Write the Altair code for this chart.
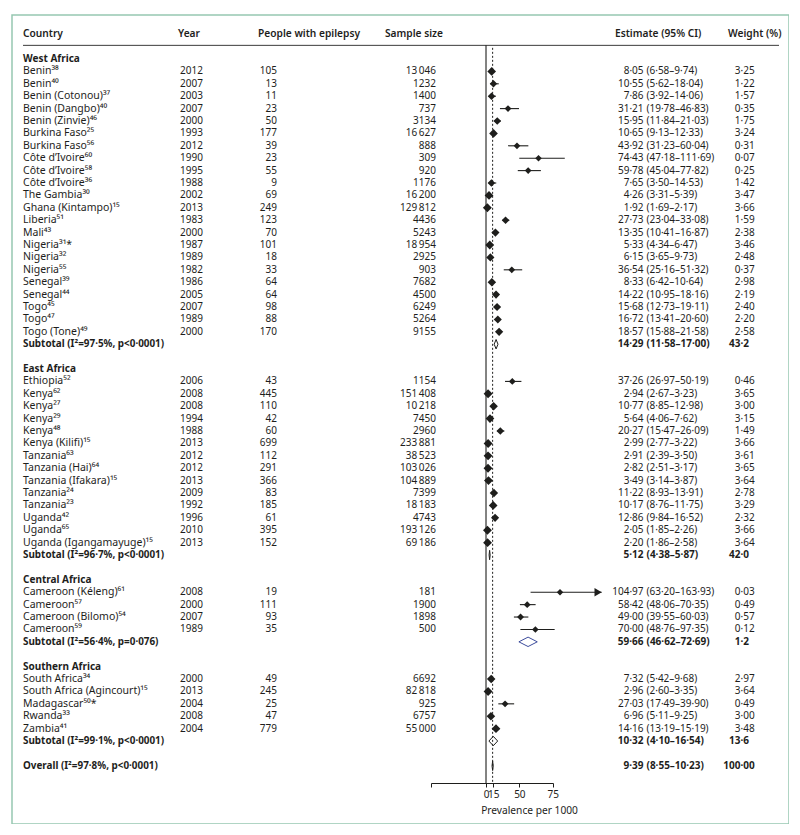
import altair as alt
import pandas as pd

FONT = "Noto Sans"
INK = "#1e1e1c"

# ---------------- data ----------------
regions = ["West Africa", "East Africa", "Central Africa", "Southern Africa"]

names = [
    ["Benin", "Benin", "Benin (Cotonou)", "Benin (Dangbo)", "Benin (Zinvie)", "Burkina Faso",
     "Burkina Faso", "Côte d’Ivoire", "Côte d’Ivoire", "Côte d’Ivoire", "The Gambia",
     "Ghana (Kintampo)", "Liberia", "Mali", "Nigeria", "Nigeria", "Nigeria", "Senegal",
     "Senegal", "Togo", "Togo", "Togo (Tone)"],
    ["Ethiopia", "Kenya", "Kenya", "Kenya", "Kenya", "Kenya (Kilifi)", "Tanzania",
     "Tanzania (Hai)", "Tanzania (Ifakara)", "Tanzania", "Tanzania", "Uganda", "Uganda",
     "Uganda (Igangamayuge)"],
    ["Cameroon (Kéleng)", "Cameroon", "Cameroon (Bilomo)", "Cameroon"],
    ["South Africa", "South Africa (Agincourt)", "Madagascar", "Rwanda", "Zambia"],
]
refs = [
    ["38", "40", "37", "40", "46", "25", "56", "60", "58", "36", "30", "15", "51", "43",
     "31*", "32", "55", "39", "44", "45", "47", "49"],
    ["52", "62", "27", "29", "48", "15", "63", "64", "15", "24", "23", "42", "65", "15"],
    ["61", "57", "54", "59"],
    ["34", "15", "50*", "33", "41"],
]
years = [
    [2012, 2007, 2003, 2007, 2000, 1993, 2012, 1990, 1995, 1988, 2002, 2013, 1983, 2000,
     1987, 1989, 1982, 1986, 2005, 2007, 1989, 2000],
    [2006, 2008, 2008, 1994, 1988, 2013, 2012, 2012, 2013, 2009, 1992, 1996, 2010, 2013],
    [2008, 2000, 2007, 1989],
    [2000, 2013, 2004, 2008, 2004],
]
cases = [
    [105, 13, 11, 23, 50, 177, 39, 23, 55, 9, 69, 249, 123, 70, 101, 18, 33, 64, 64, 98,
     88, 170],
    [43, 445, 110, 42, 60, 699, 112, 291, 366, 83, 185, 61, 395, 152],
    [19, 111, 93, 35],
    [49, 245, 25, 47, 779],
]
samples = [
    [13046, 1232, 1400, 737, 3134, 16627, 888, 309, 920, 1176, 16200, 129812, 4436, 5243,
     18954, 2925, 903, 7682, 4500, 6249, 5264, 9155],
    [1154, 151408, 10218, 7450, 2960, 233881, 38523, 103026, 104889, 7399, 18183, 4743,
     193126, 69186],
    [181, 1900, 1898, 500],
    [6692, 82818, 925, 6757, 55000],
]
estimates = [
    [8.05, 10.55, 7.86, 31.21, 15.95, 10.65, 43.92, 74.43, 59.78, 7.65, 4.26, 1.92, 27.73,
     13.35, 5.33, 6.15, 36.54, 8.33, 14.22, 15.68, 16.72, 18.57],
    [37.26, 2.94, 10.77, 5.64, 20.27, 2.99, 2.91, 2.82, 3.49, 11.22, 10.17, 12.86, 2.05, 2.20],
    [104.97, 58.42, 49.00, 70.00],
    [7.32, 2.96, 27.03, 6.96, 14.16],
]
lowers = [
    [6.58, 5.62, 3.92, 19.78, 11.84, 9.13, 31.23, 47.18, 45.04, 3.50, 3.31, 1.69, 23.04,
     10.41, 4.34, 3.65, 25.16, 6.42, 10.95, 12.73, 13.41, 15.88],
    [26.97, 2.67, 8.85, 4.06, 15.47, 2.77, 2.39, 2.51, 3.14, 8.93, 8.76, 9.84, 1.85, 1.86],
    [63.20, 48.06, 39.55, 48.76],
    [5.42, 2.60, 17.49, 5.11, 13.19],
]
uppers = [
    [9.74, 18.04, 14.06, 46.83, 21.03, 12.33, 60.04, 111.69, 77.82, 14.53, 5.39, 2.17, 33.08,
     16.87, 6.47, 9.73, 51.32, 10.64, 18.16, 19.11, 20.60, 21.58],
    [50.19, 3.23, 12.98, 7.62, 26.09, 3.22, 3.50, 3.17, 3.87, 13.91, 11.75, 16.52, 2.26, 2.58],
    [163.93, 70.35, 60.03, 97.35],
    [9.68, 3.35, 39.90, 9.25, 15.19],
]
weights = [
    [3.25, 1.22, 1.57, 0.35, 1.75, 3.24, 0.31, 0.07, 0.25, 1.42, 3.47, 3.66, 1.59, 2.38,
     3.46, 2.48, 0.37, 2.98, 2.19, 2.40, 2.20, 2.58],
    [0.46, 3.65, 3.00, 3.15, 1.49, 3.66, 3.61, 3.65, 3.64, 2.78, 3.29, 2.32, 3.66, 3.64],
    [0.03, 0.49, 0.57, 0.12],
    [2.97, 3.64, 0.49, 3.00, 3.48],
]

subtotal_labels = ["Subtotal (I²=97·5%, p<0·0001)", "Subtotal (I²=96·7%, p<0·0001)",
                   "Subtotal (I²=56·4%, p=0·076)", "Subtotal (I²=99·1%, p<0·0001)"]
subtotal_est = [14.29, 5.12, 59.66, 10.32]
subtotal_lo = [11.58, 4.38, 46.62, 4.10]
subtotal_hi = [17.00, 5.87, 72.69, 16.54]
subtotal_w = [43.2, 42.0, 1.2, 13.6]

overall_label = "Overall (I²=97·8%, p<0·0001)"
overall_est, overall_lo, overall_hi, overall_w = 9.39, 8.55, 10.23, 100.00

headers = ["Country", "Year", "People with epilepsy", "Sample size", "Estimate (95% CI)",
           "Weight (%)"]
axis_tick_values = [-78, 0, 10.4, 47.3, 94.6]
axis_tick_labels = ["", "0", "15", "50", "75"]
axis_title = "Prevalence per 1000"
arrow_above = 150  # CIs reaching beyond this get an arrow head

# ---------------- helpers ----------------
SUP = str.maketrans("0123456789", "⁰¹²³⁴⁵⁶⁷⁸⁹")


def dot(v, nd):
    return f"{v:.{nd}f}".replace(".", "·")


def thousands(n):
    return f"{n:,}".replace(",", "\u2009") if n >= 10000 else str(n)


def split_dec(s):
    k = s.index("·")
    return s[:k], s[k:]


study_rows, region_rows, summary_rows, poly_rows = [], [], [], []
r = 0
for i, reg in enumerate(regions):
    region_rows.append({"row": r, "label": reg})
    r += 1
    for j in range(len(names[i])):
        wi, wf = split_dec(dot(weights[i][j], 2))
        study_rows.append({
            "row": r, "label": names[i][j] + refs[i][j].translate(SUP),
            "year": str(years[i][j]), "cases": str(cases[i][j]),
            "sample": thousands(samples[i][j]),
            "est": estimates[i][j], "lo": lowers[i][j], "hi": uppers[i][j],
            "w": weights[i][j], "est_txt": dot(estimates[i][j], 2),
            "ci_txt": f"({dot(lowers[i][j], 2)}–{dot(uppers[i][j], 2)})",
            "w_int": wi, "w_frac": wf,
        })
        r += 1
    wi, wf = split_dec(dot(subtotal_w[i], 1))
    summary_rows.append({
        "row": r, "label": subtotal_labels[i], "grp": reg, "est": subtotal_est[i],
        "lo": subtotal_lo[i], "hi": subtotal_hi[i], "est_txt": dot(subtotal_est[i], 2),
        "ci_txt": f"({dot(subtotal_lo[i], 2)}–{dot(subtotal_hi[i], 2)})",
        "w_int": wi, "w_frac": wf})
    r += 2
wi, wf = split_dec(dot(overall_w, 2))
summary_rows.append({
    "row": r, "label": overall_label, "grp": "Overall", "est": overall_est,
    "lo": overall_lo, "hi": overall_hi, "est_txt": dot(overall_est, 2),
    "ci_txt": f"({dot(overall_lo, 2)}–{dot(overall_hi, 2)})", "w_int": wi, "w_frac": wf})

HALF = 0.38
for s in summary_rows:
    pts = [(s["lo"], s["row"]), (s["est"], s["row"] - HALF), (s["hi"], s["row"]),
           (s["est"], s["row"] + HALF), (s["lo"], s["row"])]
    for k, (px, py) in enumerate(pts):
        poly_rows.append({"grp": s["grp"], "k": k, "x": px, "y": py})

studies = pd.DataFrame(study_rows)
region_df = pd.DataFrame(region_rows)
summ = pd.DataFrame(summary_rows)
poly = pd.DataFrame(poly_rows)

# ---------------- scales / axis ----------------
AXIS_ROW = 58.39
yscale = alt.Scale(domain=[-3.548, 61.69], reverse=True, nice=False, zero=False)
xscale = alt.Scale(domain=[-78, 95], range=[419, 541], nice=False, zero=False)

label_expr = " : ".join(f"datum.value == {v} ? '{l}'"
                        for v, l in zip(axis_tick_values, axis_tick_labels)) + " : ''"
xaxis = alt.Axis(values=axis_tick_values, labelExpr=label_expr, title=axis_title,
                 offset=-41, tickSize=4, tickColor=INK, domainColor=INK, labelColor=INK,
                 titleColor=INK, labelFont=FONT, titleFont=FONT, labelFontSize=10,
                 titleFontSize=10.2, titleFontWeight="normal", grid=False, labelPadding=2,
                 labelFlush=False, labelOverlap=False, labelBound=False,
                 titleX=517, titleY=27, titleAlign="center", titleBaseline="middle",
                 domainWidth=1, tickWidth=1)

Y = alt.Y("row:Q", scale=yscale, axis=None)


def X(field):
    return alt.X(f"{field}:Q", scale=xscale, axis=xaxis)


def text_layer(df, field, xpx, align="left", weight="normal", size=10):
    return alt.Chart(df).mark_text(
        align=align, baseline="middle", font=FONT, fontSize=size, fontWeight=weight,
        color=INK).encode(x=alt.value(xpx), y=Y, text=f"{field}:N")


layers = []

# header texts + rule
header_x = [11, 166, 246, 373, 603, 716]
for h, hx in zip(headers, header_x):
    layers.append(text_layer(pd.DataFrame({"row": [-2.0], "t": [h]}), "t", hx,
                             weight=600, size=10.2))
layers.append(alt.Chart(pd.DataFrame({"row": [-1.1]})).mark_rule(
    color="#3a3a3a", strokeWidth=1).encode(x=alt.value(11), x2=alt.value(767), y=Y))

# reference lines
layers.append(alt.Chart(pd.DataFrame({"v": [0.0], "a": [-1.1], "b": [AXIS_ROW]})).mark_rule(
    color=INK, strokeWidth=1.1).encode(x=X("v"), y=alt.Y("a:Q", scale=yscale, axis=None),
                                       y2="b:Q"))
layers.append(alt.Chart(pd.DataFrame({"v": [overall_est], "a": [-0.9],
                                      "b": [AXIS_ROW - 0.1]})).mark_rule(
    color=INK, strokeWidth=1, strokeDash=[2, 2]).encode(
    x=X("v"), y=alt.Y("a:Q", scale=yscale, axis=None), y2="b:Q"))

# study CIs, markers, arrow
layers.append(alt.Chart(studies).mark_rule(color=INK, strokeWidth=1.1).encode(
    x=X("lo"), x2="hi:Q", y=Y))
layers.append(alt.Chart(studies).mark_point(shape="diamond", filled=True, color=INK,
                                            opacity=1).encode(
    x=X("est"), y=Y,
    size=alt.Size("w:Q", scale=alt.Scale(domain=[0, 3.7], range=[42, 80]), legend=None)))
layers.append(alt.Chart(studies).transform_filter(f"datum.hi > {arrow_above}").mark_point(
    shape="triangle-right", filled=True, color=INK, opacity=1, size=70, xOffset=-3.5).encode(
    x=X("hi"), y=Y))

# summary diamonds
grp_names = regions + ["Overall"]
grp_colors = [INK, INK, "#3d4c9c", INK, INK]
layers.append(alt.Chart(poly).mark_line(strokeWidth=1).encode(
    x=X("x"), y=alt.Y("y:Q", scale=yscale, axis=None), order="k:Q", detail="grp:N",
    color=alt.Color("grp:N", scale=alt.Scale(domain=grp_names, range=grp_colors),
                    legend=None)))

# text columns
layers.append(text_layer(region_df, "label", 11, weight="bold", size=10))
layers.append(text_layer(studies, "label", 11, size=10.5))
layers.append(text_layer(summ, "label", 11, weight="bold", size=9.9))
layers.append(text_layer(studies, "year", 168))
layers.append(text_layer(studies, "cases", 265, align="right"))
layers.append(text_layer(studies, "sample", 424, align="right"))
layers.append(text_layer(studies, "est_txt", 631.5, align="right"))
layers.append(text_layer(studies, "ci_txt", 634.5))
layers.append(text_layer(summ, "est_txt", 631.5, align="right", weight="bold"))
layers.append(text_layer(summ, "ci_txt", 634.5, weight="bold"))
layers.append(text_layer(studies, "w_int", 728.5, align="right"))
layers.append(text_layer(studies, "w_frac", 728.5))
layers.append(text_layer(summ, "w_int", 728.5, align="right", weight="bold"))
layers.append(text_layer(summ, "w_frac", 728.5, weight="bold"))

chart = alt.layer(*layers).properties(
    width=777, height=809,
    padding={"left": 4, "top": 7, "right": 0, "bottom": 0},
).configure_view(stroke="#96c7b1", strokeWidth=1.5)

chart.save("out.html", embed_options={"renderer": "svg", "actions": False})
